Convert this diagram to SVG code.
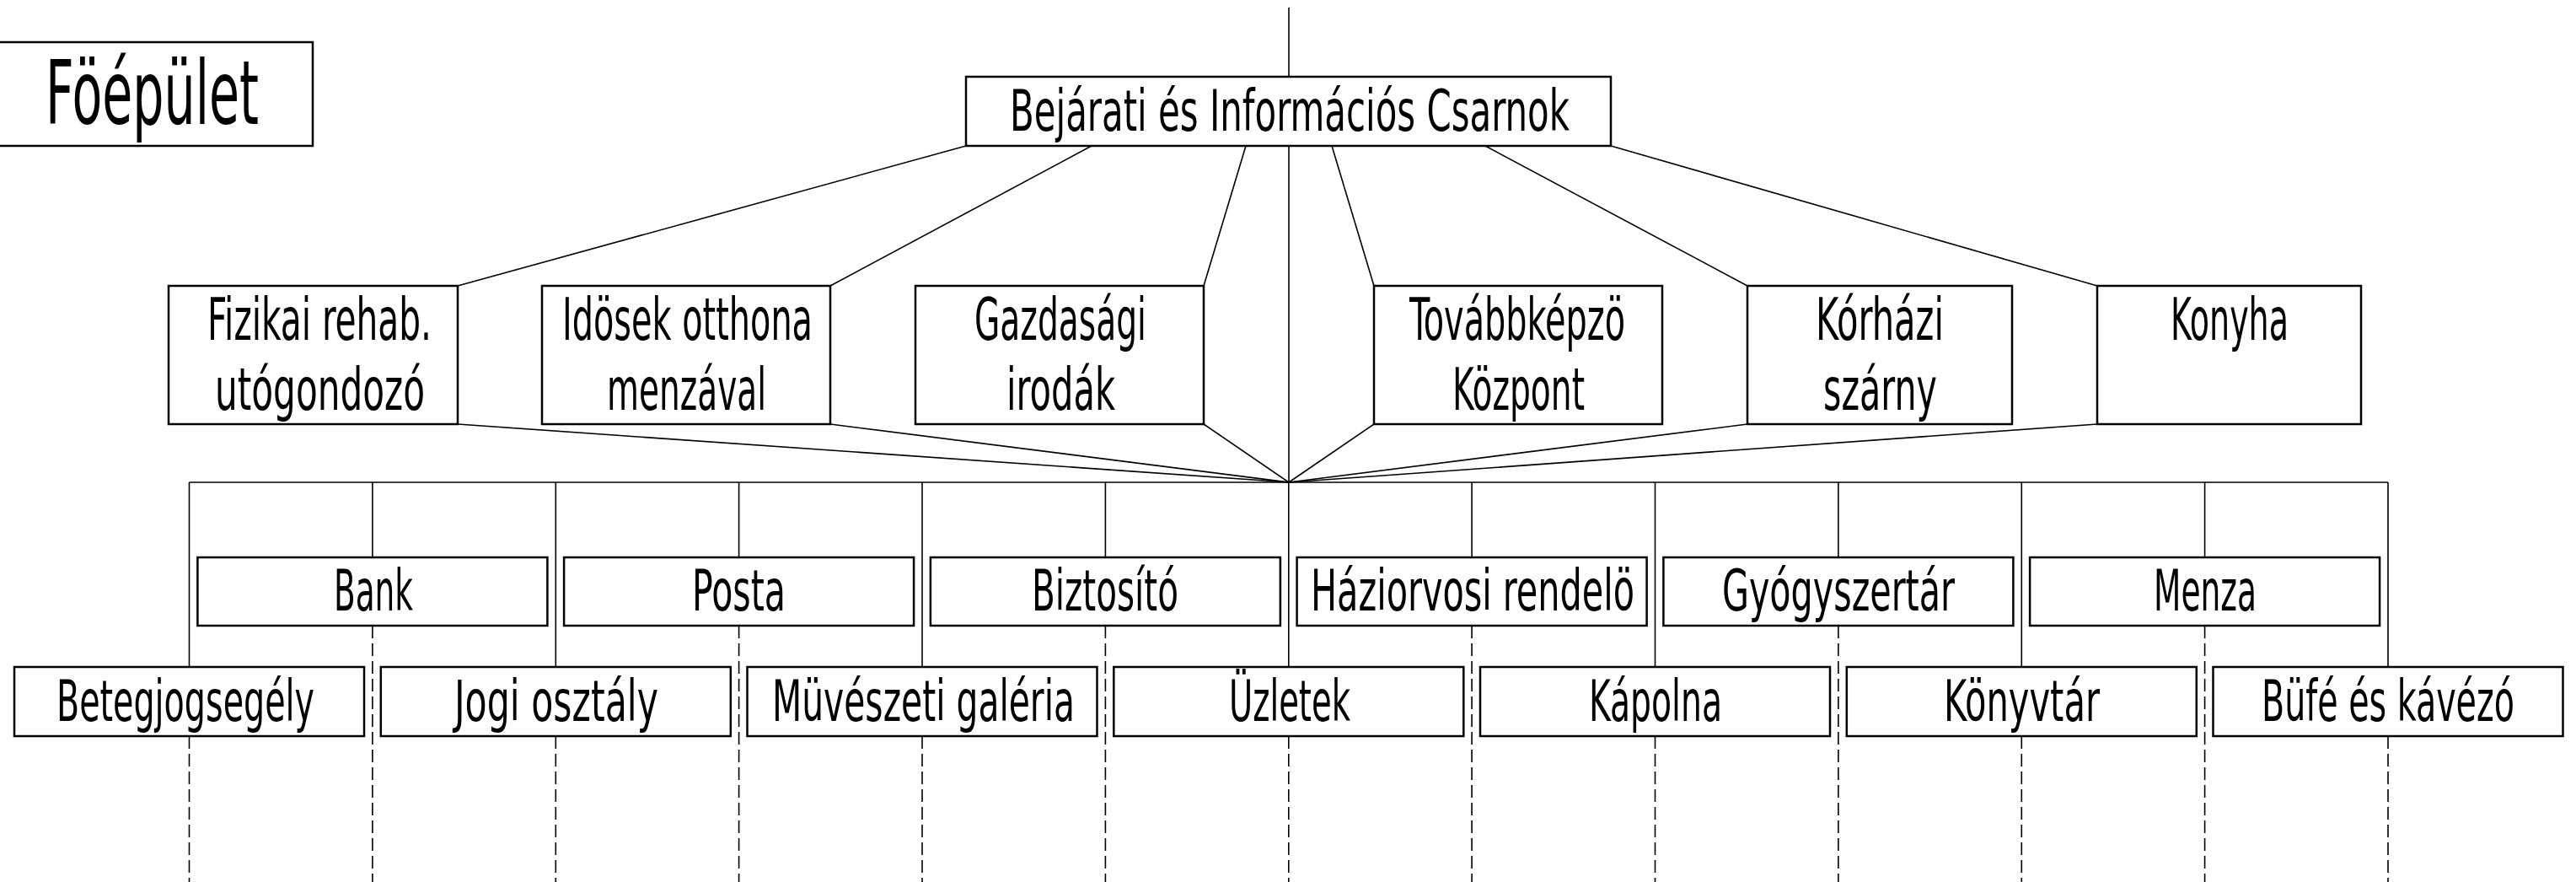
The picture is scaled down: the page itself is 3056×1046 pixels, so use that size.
<svg xmlns="http://www.w3.org/2000/svg" width="3056" height="1046" viewBox="0 0 3056 1046">
<style>
.bg{fill:#ffffff}
.box{fill:#ffffff;stroke:#000;stroke-width:2.5}
.ln{fill:none;stroke:#000;stroke-width:1.6}
.dash{fill:none;stroke:#000;stroke-width:1.6;stroke-dasharray:15 6}
text{font-family:"Liberation Sans Narrow","DejaVu Sans Condensed","Liberation Sans",sans-serif;fill:#000}
.t1{font-size:105px}
.t2{font-size:68px}
.t3{font-size:70px}
.t4{font-size:67px}
</style>
<rect class="bg" x="0" y="0" width="3056" height="1046"/>
<g id="connectors">
  <line class="ln" x1="1529" y1="9" x2="1529" y2="91"/>
  <line class="ln" x1="1529" y1="173" x2="1529" y2="572"/>
  <line class="ln" x1="543" y1="339" x2="1146" y2="173"/>
  <line class="ln" x1="985" y1="339" x2="1295" y2="173"/>
  <line class="ln" x1="1428" y1="339" x2="1478" y2="173"/>
  <line class="ln" x1="1630" y1="339" x2="1580" y2="173"/>
  <line class="ln" x1="2073" y1="339" x2="1762" y2="173"/>
  <line class="ln" x1="2488" y1="339" x2="1911" y2="173"/>
  <line class="ln" x1="543" y1="503" x2="1529" y2="572"/>
  <line class="ln" x1="985" y1="503" x2="1529" y2="572"/>
  <line class="ln" x1="1428" y1="503" x2="1529" y2="572"/>
  <line class="ln" x1="1630" y1="503" x2="1529" y2="572"/>
  <line class="ln" x1="2073" y1="503" x2="1529" y2="572"/>
  <line class="ln" x1="2488" y1="503" x2="1529" y2="572"/>
  <line class="ln" x1="224.5" y1="572" x2="2833" y2="572"/>
  <path class="ln" d="M224.5 572V791M659.3 572V791M1094 572V791M1528.8 572V791M1963.5 572V791M2398.3 572V791M2833 572V791"/>
  <path class="ln" d="M441.9 572V661M876.6 572V661M1311.4 572V661M1746.1 572V661M2180.9 572V661M2615.6 572V661"/>
  <path class="dash" d="M224.5 873V1046M659.3 873V1046M1094 873V1046M1528.8 873V1046M1963.5 873V1046M2398.3 873V1046M2833 873V1046"/>
  <path class="dash" d="M441.9 742V1046M876.6 742V1046M1311.4 742V1046M1746.1 742V1046M2180.9 742V1046M2615.6 742V1046"/>
</g>
<g id="title">
  <rect class="box" x="-2" y="50" width="373" height="123"/>
  <text class="t1" x="54" y="147" textLength="253" lengthAdjust="spacingAndGlyphs">Föépület</text>
</g>
<g id="n-bejarati">
  <rect class="box" x="1146" y="91" width="765" height="82"/>
  <text class="t2" x="1198" y="155" textLength="664" lengthAdjust="spacingAndGlyphs">Bejárati és Információs Csarnok</text>
</g>
<g id="n-fizikai">
  <rect class="box" x="200" y="339" width="343" height="164"/>
  <text class="t3" x="246" y="403" textLength="266" lengthAdjust="spacingAndGlyphs">Fizikai rehab.</text>
  <text class="t3" x="255" y="486" textLength="249" lengthAdjust="spacingAndGlyphs">utógondozó</text>
</g>
<g id="n-idosek">
  <rect class="box" x="643" y="339" width="342" height="164"/>
  <text class="t3" x="667" y="403" textLength="297" lengthAdjust="spacingAndGlyphs">Idösek otthona</text>
  <text class="t3" x="720" y="486" textLength="189" lengthAdjust="spacingAndGlyphs">menzával</text>
</g>
<g id="n-gazdasagi">
  <rect class="box" x="1086" y="339" width="342" height="164"/>
  <text class="t3" x="1156" y="403" textLength="204" lengthAdjust="spacingAndGlyphs">Gazdasági</text>
  <text class="t3" x="1194" y="486" textLength="129" lengthAdjust="spacingAndGlyphs">irodák</text>
</g>
<g id="n-tovabbkepzo">
  <rect class="box" x="1630" y="339" width="342" height="164"/>
  <text class="t3" x="1672" y="403" textLength="256" lengthAdjust="spacingAndGlyphs">Továbbképzö</text>
  <text class="t3" x="1723" y="486" textLength="157" lengthAdjust="spacingAndGlyphs">Központ</text>
</g>
<g id="n-korhazi">
  <rect class="box" x="2073" y="339" width="314" height="164"/>
  <text class="t3" x="2154" y="403" textLength="152" lengthAdjust="spacingAndGlyphs">Kórházi</text>
  <text class="t3" x="2163" y="486" textLength="135" lengthAdjust="spacingAndGlyphs">szárny</text>
</g>
<g id="n-konyha">
  <rect class="box" x="2488" y="339" width="313" height="164"/>
  <text class="t3" x="2575" y="403" textLength="140" lengthAdjust="spacingAndGlyphs">Konyha</text>
</g>
<g id="n-bank">
  <rect class="box" x="234.4" y="661" width="415" height="81"/>
  <text class="t4" x="396" y="724" textLength="94" lengthAdjust="spacingAndGlyphs">Bank</text>
</g>
<g id="n-posta">
  <rect class="box" x="669.1" y="661" width="415" height="81"/>
  <text class="t4" x="821" y="724" textLength="111" lengthAdjust="spacingAndGlyphs">Posta</text>
</g>
<g id="n-biztosito">
  <rect class="box" x="1103.9" y="661" width="415" height="81"/>
  <text class="t4" x="1224" y="724" textLength="174" lengthAdjust="spacingAndGlyphs">Biztosító</text>
</g>
<g id="n-haziorvosi">
  <rect class="box" x="1538.6" y="661" width="415" height="81"/>
  <text class="t4" x="1555" y="724" textLength="384" lengthAdjust="spacingAndGlyphs">Háziorvosi rendelö</text>
</g>
<g id="n-gyogyszertar">
  <rect class="box" x="1973.4" y="661" width="415" height="81"/>
  <text class="t4" x="2043" y="724" textLength="276" lengthAdjust="spacingAndGlyphs">Gyógyszertár</text>
</g>
<g id="n-menza">
  <rect class="box" x="2408.1" y="661" width="415" height="81"/>
  <text class="t4" x="2555" y="724" textLength="122" lengthAdjust="spacingAndGlyphs">Menza</text>
</g>
<g id="n-betegjogsegely">
  <rect class="box" x="17" y="791" width="415" height="82"/>
  <text class="t4" x="67" y="855" textLength="306" lengthAdjust="spacingAndGlyphs">Betegjogsegély</text>
</g>
<g id="n-jogi">
  <rect class="box" x="451.8" y="791" width="415" height="82"/>
  <text class="t4" x="539" y="855" textLength="242" lengthAdjust="spacingAndGlyphs">Jogi osztály</text>
</g>
<g id="n-muveszeti">
  <rect class="box" x="886.5" y="791" width="415" height="82"/>
  <text class="t4" x="916" y="855" textLength="359" lengthAdjust="spacingAndGlyphs">Müvészeti galéria</text>
</g>
<g id="n-uzletek">
  <rect class="box" x="1321.3" y="791" width="415" height="82"/>
  <text class="t4" x="1458" y="855" textLength="144" lengthAdjust="spacingAndGlyphs">Üzletek</text>
</g>
<g id="n-kapolna">
  <rect class="box" x="1756" y="791" width="415" height="82"/>
  <text class="t4" x="1885" y="855" textLength="158" lengthAdjust="spacingAndGlyphs">Kápolna</text>
</g>
<g id="n-konyvtar">
  <rect class="box" x="2190.8" y="791" width="415" height="82"/>
  <text class="t4" x="2306" y="855" textLength="185" lengthAdjust="spacingAndGlyphs">Könyvtár</text>
</g>
<g id="n-bufe">
  <rect class="box" x="2625.5" y="791" width="415" height="82"/>
  <text class="t4" x="2683" y="855" textLength="300" lengthAdjust="spacingAndGlyphs">Büfé és kávézó</text>
</g>
</svg>
